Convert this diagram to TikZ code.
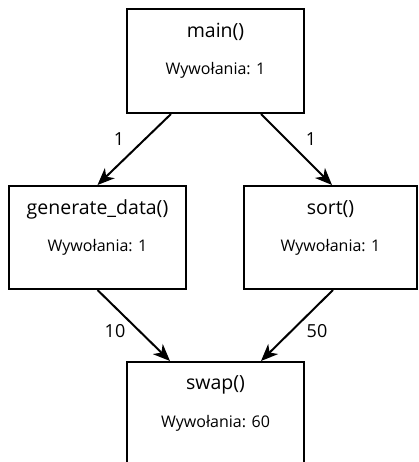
\documentclass[tikz,border=0pt]{standalone}
\usepackage{fontspec}
\setmainfont{Open Sans}
\usetikzlibrary{arrows.meta}
\tikzset{
  box/.style={draw=black, line width=2pt, fill=white, rectangle, inner sep=0pt},
  title/.style={font=\fontsize{19.5}{22}\selectfont, inner sep=0pt},
  calls/.style={font=\fontsize{16}{18}\selectfont, inner sep=0pt},
  lbl/.style={font=\fontsize{18}{20}\selectfont, inner sep=0pt},
  arr/.style={line width=2pt, -{Stealth[length=17pt, width=14pt, inset=5pt]}},
}
\begin{document}
\begin{tikzpicture}[x=1pt, y=-1pt]
  \useasboundingbox (0,0) rectangle (418,462);
  \clip (0,0) rectangle (418,462);

  % call-graph boxes
  \node[box, minimum width=177pt, minimum height=104pt] (main) at (215.5,61) {};
  \node[box, minimum width=177pt, minimum height=103pt] (gen)  at (97.5,237.5) {};
  \node[box, minimum width=173pt, minimum height=103pt] (sort) at (330.5,237.5) {};
  \node[box, minimum width=177pt, minimum height=104pt] (swap) at (215.5,414) {};

  % function names and call counts
  \node[title] (main-t) at (215.5,32) {main()};
  \node[calls] (main-c) at (215.5,70) {Wywołania: 1};
  \node[title] (gen-t)  at (97.5,209) {generate\_data()};
  \node[calls] (gen-c)  at (97.5,247) {Wywołania: 1};
  \node[title] (sort-t) at (330.5,209) {sort()};
  \node[calls] (sort-c) at (330.5,247) {Wywołania: 1};
  \node[title] (swap-t) at (215.5,385) {swap()};
  \node[calls] (swap-c) at (215.5,423) {Wywołania: 60};

  % calls between functions
  \draw[arr] ([xshift=-44.5pt]main.south) -- (gen.north)
    node[lbl, at={(119,139)}] (l1) {1};
  \draw[arr] ([xshift=45.5pt]main.south) -- ([xshift=1.5pt]sort.north)
    node[lbl, at={(311,139)}] (l2) {1};
  \draw[arr] (gen.south) -- ([xshift=-45.5pt]swap.north)
    node[lbl, at={(115,331)}] (l3) {10};
  \draw[arr] ([xshift=2.5pt]sort.south) -- ([xshift=45.5pt]swap.north)
    node[lbl, at={(317,331)}] (l4) {50};
\end{tikzpicture}
\end{document}
